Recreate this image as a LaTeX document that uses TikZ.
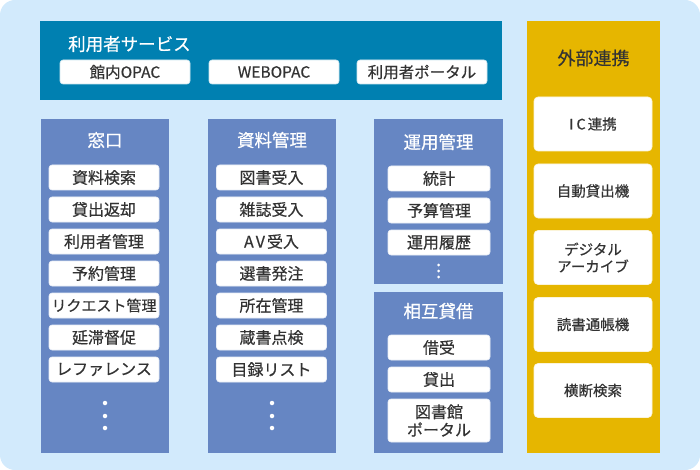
\documentclass[tikz,border=0pt]{standalone}
\usepackage{fontspec}
\setmainfont{Noto Sans CJK JP}
\newfontfamily\medfont[FakeBold=0.5]{Noto Sans CJK JP}
\definecolor{bgblue}{HTML}{D2EAFC}
\definecolor{topblue}{HTML}{0080B1}
\definecolor{colblue}{HTML}{6686C3}
\definecolor{ygold}{HTML}{E6B600}
\definecolor{txt}{HTML}{333333}
\tikzset{
  colbox/.style={fill=colblue, draw=none, inner sep=0pt},
  itembox/.style={fill=white, draw=white!85!colblue, line width=0.6pt, rounded corners=3pt, minimum width=110pt, minimum height=25pt, inner sep=0pt, text=txt, font=\medfont\fontsize{16}{17}\selectfont, align=center},
  ybox/.style={fill=white, draw=white!85!ygold, line width=0.6pt, rounded corners=4pt, minimum width=118pt, minimum height=54pt, inner sep=0pt, text=txt, font=\medfont\fontsize{14.5}{17}\selectfont, align=center},
  btn/.style={fill=white, draw=white!80!topblue, line width=0.6pt, rounded corners=3pt, minimum width=130pt, minimum height=24pt, inner sep=0pt, text=txt, font=\medfont\fontsize{15.5}{17}\selectfont},
  coltitle/.style={text=white, font=\medfont\fontsize{17.5}{20}\selectfont, inner sep=0pt},
  dot/.style={circle, fill=white, inner sep=0pt, minimum size=4.5pt},
  sdot/.style={circle, fill=white, inner sep=0pt, minimum size=3pt},
}
\begin{document}
\begin{tikzpicture}[x=1pt, y=-1pt]
\useasboundingbox (0,0) rectangle (700,470);
\fill[bgblue, rounded corners=15pt] (0,0) rectangle (700,470);
% top service bar
\node[fill=topblue, minimum width=462pt, minimum height=79pt, inner sep=0pt] (svc) at (271,60.5) {};
\node[text=white, font=\medfont\fontsize{17.5}{20}\selectfont, anchor=west, inner sep=0pt] (svct) at (68,44) {利用者サービス};
\node[btn] (b1) at (125,72) {館内OPAC};
\node[btn] (b2) at (274,72) {WEBOPAC};
\node[btn] (b3) at (422,72) {利用者ポータル};
% external
\node[fill=ygold, minimum width=133pt, minimum height=432pt, inner sep=0pt] (ext) at (593.5,237) {};
\node[text=txt, font=\medfont\fontsize{18}{20}\selectfont, inner sep=0pt] (extt) at (593.5,58) {外部連携};
\node[ybox] (e1) at (593,124) {I\hspace{3pt}C\hspace{2pt}連携};
\node[ybox] (e2) at (593,191) {自動貸出機};
\node[ybox] (e3) at (593,257.5) {デジタル\\アーカイブ};
\node[ybox] (e4) at (593,324.5) {読書通帳機};
\node[ybox] (e5) at (593,390.5) {横断検索};
% madoguchi
\node[colbox, minimum width=128pt, minimum height=334pt] (c1) at (105,286) {};
\node[coltitle] (c1t) at (105,140) {窓口};
\node[itembox] (m1) at (104,177.5) {資料検索};
\node[itembox] (m2) at (104,209.5) {貸出返却};
\node[itembox] (m3) at (104,241.5) {利用者管理};
\node[itembox] (m4) at (104,273.5) {予約管理};
\node[itembox, font=\medfont\fontsize{15}{17}\selectfont] (m5) at (104,305.5) {リクエスト管理};
\node[itembox] (m6) at (104,337.5) {延滞督促};
\node[itembox] (m7) at (104,369.5) {レファレンス};
\node[dot] (md1) at (105,403) {};
\node[dot] (md2) at (105,416) {};
\node[dot] (md3) at (105,428) {};
% shiryo kanri
\node[colbox, minimum width=128pt, minimum height=334pt] (c2) at (272,286) {};
\node[coltitle] (c2t) at (272,140) {資料管理};
\node[itembox] (s1) at (271.5,177.5) {図書受入};
\node[itembox] (s2) at (271.5,209.5) {雑誌受入};
\node[itembox] (s3) at (271.5,241.5) {A\hspace{2pt}V\hspace{2pt}受入};
\node[itembox] (s4) at (271.5,273.5) {選書発注};
\node[itembox] (s5) at (271.5,305.5) {所在管理};
\node[itembox] (s6) at (271.5,337.5) {蔵書点検};
\node[itembox] (s7) at (271.5,369.5) {目録リスト};
\node[dot] (sd1) at (272,403) {};
\node[dot] (sd2) at (272,416) {};
\node[dot] (sd3) at (272,428) {};
% unyo kanri
\node[colbox, minimum width=129pt, minimum height=165pt] (c3) at (438.5,201.5) {};
\node[coltitle] (c3t) at (438.5,142) {運用管理};
\node[itembox, minimum width=102pt] (u1) at (439,178.5) {統計};
\node[itembox, minimum width=102pt] (u2) at (439,210.5) {予算管理};
\node[itembox, minimum width=102pt] (u3) at (439,242.5) {運用履歴};
\node[sdot] (ud1) at (438.5,265) {};
\node[sdot] (ud2) at (438.5,271) {};
\node[sdot] (ud3) at (438.5,277) {};
% sogo taishaku
\node[colbox, minimum width=129pt, minimum height=161pt] (c4) at (438.5,372.5) {};
\node[coltitle] (c4t) at (438.5,311) {相互貸借};
\node[itembox, minimum width=102pt] (t1) at (439,347.5) {借受};
\node[itembox, minimum width=102pt] (t2) at (439,379.5) {貸出};
\node[itembox, minimum width=102pt, minimum height=43pt, font=\medfont\fontsize{16}{18}\selectfont] (t3) at (439,420.5) {図書館\\ポータル};
\end{tikzpicture}
\end{document}
